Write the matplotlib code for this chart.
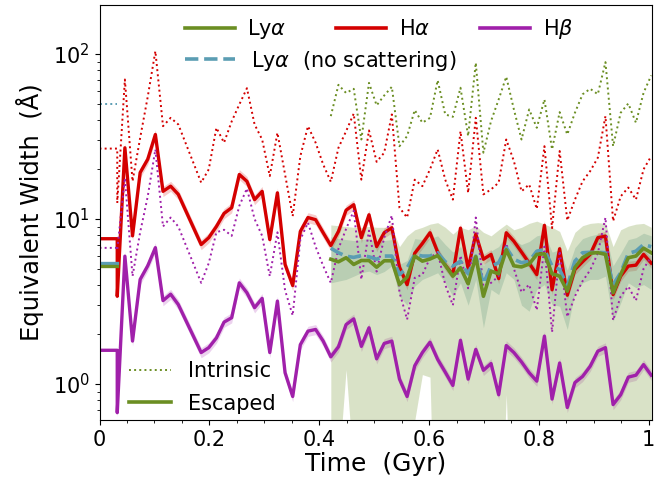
import numpy as np
import matplotlib.pyplot as plt
from matplotlib.lines import Line2D
from matplotlib.ticker import MultipleLocator, FuncFormatter

# snapshot times (Gyr) -- snapshots at ~0.157 and ~0.171 are missing
times = [0.0323, 0.0462, 0.0601, 0.0740, 0.0878, 0.1017, 0.1156, 0.1295, 0.1434,
         0.1851, 0.1989, 0.2128, 0.2267, 0.2406, 0.2545, 0.2684, 0.2823, 0.2961,
         0.3100, 0.3239, 0.3378, 0.3517, 0.3656, 0.3795, 0.3934, 0.4072,
         0.4211, 0.4350, 0.4489, 0.4628, 0.4767, 0.4906, 0.5045, 0.5183, 0.5322,
         0.5461, 0.5600, 0.5739, 0.5878, 0.6017, 0.6156, 0.6294, 0.6433, 0.6572,
         0.6711, 0.6850, 0.6989, 0.7128, 0.7267, 0.7405, 0.7544, 0.7683, 0.7822,
         0.7961, 0.8100, 0.8239, 0.8377, 0.8516, 0.8655, 0.8794, 0.8933, 0.9072,
         0.9211, 0.9350, 0.9488, 0.9627, 0.9766, 0.9905, 1.0044]
lya_first = 26  # Lya only computed from t ~ 0.42 Gyr

# Halpha equivalent widths (A)
ha_esc = [3.4, 27, 7.9, 19.1, 23, 32.5, 14.7, 15.8, 14.1,
          7.0, 7.7, 9.0, 10.8, 11.7, 18.6, 16.9, 13.1, 14.7, 7.5, 14.4, 5.3, 3.95, 8.4, 10.2, 9.9, 8.25,
          6.9, 8.4, 11.3, 12.2, 7.7, 10.6, 6.8, 8.25, 8.85, 5.1, 4.0, 6.2, 7.1, 8.25, 6.3, 5.25, 4.6,
          8.8, 5.0, 8.1, 5.7, 6.1, 4.35, 8.25, 7.33, 6.3, 5.4, 4.6, 9.15, 3.72, 6.6, 3.45, 4.94, 5.5,
          6.1, 7.7, 7.87, 3.48, 4.5, 5.18, 5.25, 6.1, 5.4]
ha_int = [12.5, 70, 16.9, 31, 55, 104, 36.5, 41, 37.4,
          16.6, 20, 35.7, 29, 39, 49.4, 62, 37.4, 30.3, 18.2, 33.3, 18.6, 10.4, 24, 36.5, 29, 21.4,
          16.8, 27, 34, 43.5, 17.3, 34.4, 22.2, 25.2, 43, 11.7, 10.2, 17.3, 15.8, 20, 26.4, 17.3, 13.1,
          34, 14.4, 41, 14.1, 15.1, 16.6, 30.3, 22.4, 14.7, 16.2, 11.5, 27.6, 8.8, 25.8, 9.8, 13.1,
          16.9, 19.5, 23.5, 42, 9.7, 13.7, 15.5, 13.1, 20, 24]

# Hbeta
hb_esc = [0.67, 5.95, 1.82, 4.3, 5.2, 6.7, 3.2, 3.5, 3.03,
          1.55, 1.66, 1.9, 2.37, 2.52, 4.1, 3.57, 2.9, 3.3, 1.55, 3.18, 1.17, 0.84, 1.73, 2.09, 2.14, 1.82,
          1.46, 1.68, 2.29, 2.48, 1.69, 2.19, 1.42, 1.76, 1.82, 1.07, 0.84, 1.29, 1.55, 1.79, 1.41, 1.18,
          0.98, 1.84, 1.07, 1.62, 1.21, 1.33, 0.86, 1.71, 1.55, 1.36, 1.17, 1.04, 1.95, 0.81, 1.34, 0.72,
          1.02, 1.11, 1.28, 1.58, 1.66, 0.75, 0.86, 1.1, 1.13, 1.31, 1.13]
hb_int = [6.5, 17.7, 4.5, 8.3, 13.7, 26.4, 9.0, 10.2, 9.0,
          4.1, 5.4, 8.3, 8.6, 7.9, 12.0, 15.3, 10.0, 7.9, 4.5, 8.3, 3.7, 2.6, 7.5, 9.5, 6.8, 5.2,
          4.1, 6.6, 8.7, 11.2, 4.3, 8.5, 4.8, 7.7, 10.5, 3.6, 2.46, 4.4, 4.6, 5.8, 6.3, 4.0, 3.0, 6.0,
          3.8, 10.2, 3.9, 4.1, 4.5, 7.1, 5.0, 3.6, 4.0, 2.8, 6.8, 2.06, 6.4, 2.55, 3.4, 4.2, 4.9, 6.2,
          10.2, 2.43, 3.4, 3.9, 3.2, 5.0, 5.9]
h_spread = 0.07  # relative half width of the Halpha / Hbeta bands

# Lyman alpha (from t ~ 0.42)
lya_esc = [5.7, 5.5, 5.82, 5.3, 5.6, 5.6, 5.1, 5.58, 5.58, 4.0, 4.45, 5.96, 5.55, 5.72, 6.0,
           5.25, 4.5, 5.06, 4.05, 5.9, 3.4, 4.83, 4.65, 6.5, 5.2, 5.12, 5.33, 6.1, 6.15, 4.65,
           4.5, 3.65, 5.08, 5.82, 6.2, 6.25, 6.1, 3.57, 4.6, 5.82, 5.96, 6.65, 6.24]
lya_nosc = [6.65, 6.24, 5.95, 5.85, 6.0, 5.9, 5.7, 5.96, 5.96, 4.6, 5.05, 6.1, 5.96, 5.96, 6.24,
            5.5, 5.18, 5.55, 4.65, 5.96, 4.05, 5.18, 5.43, 6.7, 5.7, 5.43, 5.55, 6.38, 6.53, 5.18,
            4.94, 3.92, 5.55, 6.24, 6.28, 6.28, 6.24, 4.0, 4.72, 6.18, 6.38, 7.0, 6.79]
lya_int = [42, 65, 58, 61.5, 30.3, 66.8, 48.8, 56, 63.2, 27.6, 31.8, 45.7, 38.3, 41, 69.3, 43,
           41.6, 62.4, 31.8, 88.5, 25.2, 39.2, 53, 72.8, 46.1, 30.3, 46.1, 35.7, 53, 26.4, 44.4,
           32.5, 44, 56.9, 61.5, 57, 89.2, 27.6, 44, 50.1, 38.3, 58.2, 74.1]
lya_lo = [0.2, 0.3, 1.22, 0.3, 0.2, 0.2, 0.2, 0.2, 0.2, 0.2, 0.2, 0.6, 1.14, 1.1, 0.02, 0.2,
          0.2, 0.2, 0.2, 0.2, 0.2, 0.2, 0.05, 0.86, 0.05, 0.2, 0.2, 0.2, 0.2, 0.2, 0.2, 0.2,
          0.2, 0.2, 0.2, 0.2, 0.2, 0.2, 0.2, 0.2, 0.2, 0.2, 0.2]
lya_hi = [9.2, 9.1, 9.0, 8.9, 8.9, 9.0, 8.9, 8.9, 8.9, 6.8, 7.9, 8.6, 8.9, 9.3, 9.5, 8.9, 8.1,
          8.9, 8.6, 9.1, 8.3, 7.9, 8.6, 9.3, 8.6, 8.9, 9.4, 9.7, 9.3, 8.9, 8.4, 6.4, 8.3, 9.1,
          9.4, 9.5, 9.4, 6.8, 8.6, 9.05, 9.3, 9.4, 8.9]
nosc_lo = [4.1, 4.2, 4.3, 4.5, 4.72, 4.83, 4.6, 4.8, 5.2, 3.4, 3.0, 3.92, 4.3, 4.5, 4.72, 4.1,
           3.4, 4.1, 3.0, 4.3, 2.19, 3.74, 3.48, 4.72, 4.3, 3.0, 2.76, 3.74, 4.0, 3.03, 2.96,
           2.14, 3.57, 4.1, 4.3, 4.3, 4.5, 2.4, 3.1, 4.1, 3.83, 4.0, 3.74]
nosc_hi = [7.8, 7.6, 7.5, 7.4, 7.5, 7.6, 7.2, 7.4, 7.5, 5.3, 5.6, 7.6, 7.5, 7.6, 7.9, 7.0, 6.3,
           6.8, 5.6, 7.6, 5.2, 6.4, 6.8, 8.0, 7.4, 7.0, 7.3, 7.9, 8.1, 6.3, 6.5, 4.9, 6.7, 7.6,
           7.9, 8.1, 8.2, 5.2, 6.2, 7.5, 7.7, 8.2, 7.9]

# values at t = 0, held until the first snapshot
ha_esc0, ha_int0 = 7.59, 26.7
hb_esc0, hb_int0 = 1.60, 6.68
lya_esc0, lya_nosc0, lya_int0 = 5.18, 5.43, 49.4

c_lya = '#6b8e23'
c_nosc = '#5b9db3'
c_ha = '#d40000'
c_hb = '#a020aa'

t = np.array(times)
t_lya = t[lya_first:]


def with_start(v0, v):
    # hold the t=0 value flat, then jump to the first snapshot
    return np.r_[0.0, t[0], t], np.r_[v0, v0, v]


fig = plt.figure(figsize=(6.71, 4.90), dpi=100)
ax = fig.add_axes([0.1483, 0.1429, 0.8227, 0.8469])
ax.set_yscale('log')

# Halpha / Hbeta
for esc, intr, e0, i0, col in [(ha_esc, ha_int, ha_esc0, ha_int0, c_ha),
                               (hb_esc, hb_int, hb_esc0, hb_int0, c_hb)]:
    esc = np.array(esc)
    ax.fill_between(t, esc * (1 - h_spread), esc * (1 + h_spread), color=col, alpha=0.2, lw=0)
    ax.plot(*with_start(i0, intr), ls=':', color=col, lw=1.4)
    ax.plot(*with_start(e0, esc), '-', color=col, lw=2.4)

# Lyman alpha bands drawn over the H lines
ax.fill_between(t_lya, lya_lo, lya_hi, color=c_lya, alpha=0.25, lw=0)
ax.fill_between(t_lya, nosc_lo, nosc_hi, color='#5a9478', alpha=0.25, lw=0)

ax.plot([0, t[0]], [lya_int0, lya_int0], ls=':', color=c_nosc, lw=1.4)
ax.plot(t_lya, lya_int, ls=':', color=c_lya, lw=1.4)
ax.plot([0, t[0]], [lya_nosc0, lya_nosc0], '-', color=c_nosc, lw=2.4)
ax.plot(t_lya, lya_nosc, '--', color=c_nosc, lw=2.6)
ax.plot([0, t[0]], [lya_esc0, lya_esc0], '-', color=c_lya, lw=2.4)
ax.plot(t_lya, lya_esc, '-', color=c_lya, lw=2.6)

ax.set_xlim(0, 1.005)
ax.set_ylim(0.605, 198)
ax.xaxis.set_major_locator(MultipleLocator(0.2))
ax.xaxis.set_minor_locator(MultipleLocator(0.05))
ax.xaxis.set_major_formatter(FuncFormatter(lambda v, p: '%g' % round(v, 2)))
ax.tick_params(which='both', direction='out', top=False, right=False, labelsize=15)
ax.set_xlabel('Time  (Gyr)', fontsize=18, labelpad=2)
ax.set_ylabel('Equivalent Width  (Å)', fontsize=17.5, labelpad=6)

leg1 = ax.legend(handles=[Line2D([], [], color=c_lya, lw=2.6),
                          Line2D([], [], color=c_ha, lw=2.6),
                          Line2D([], [], color=c_hb, lw=2.6)],
                 labels=[r'Ly$\alpha$', r'H$\alpha$', r'H$\beta$'],
                 ncol=3, loc='upper left', bbox_to_anchor=(0.12, 1.016), frameon=False,
                 fontsize=15, handlelength=2.4, columnspacing=2.4, handletextpad=0.6)
ax.add_artist(leg1)
leg2 = ax.legend(handles=[Line2D([], [], color=c_nosc, lw=2.6, ls='--')],
                 labels=[r'Ly$\alpha$  (no scattering)'],
                 loc='upper left', bbox_to_anchor=(0.12, 0.94), frameon=False,
                 fontsize=15, handlelength=2.4, handletextpad=0.8)
ax.add_artist(leg2)
ax.legend(handles=[Line2D([], [], color=c_lya, lw=1.4, ls=':'),
                   Line2D([], [], color=c_lya, lw=2.6)],
          labels=['Intrinsic', 'Escaped'], loc='lower left', bbox_to_anchor=(0.02, -0.03),
          frameon=False, fontsize=15, handlelength=2.0, handletextpad=0.8, labelspacing=0.6)

fig.savefig('out.png', dpi=100)
